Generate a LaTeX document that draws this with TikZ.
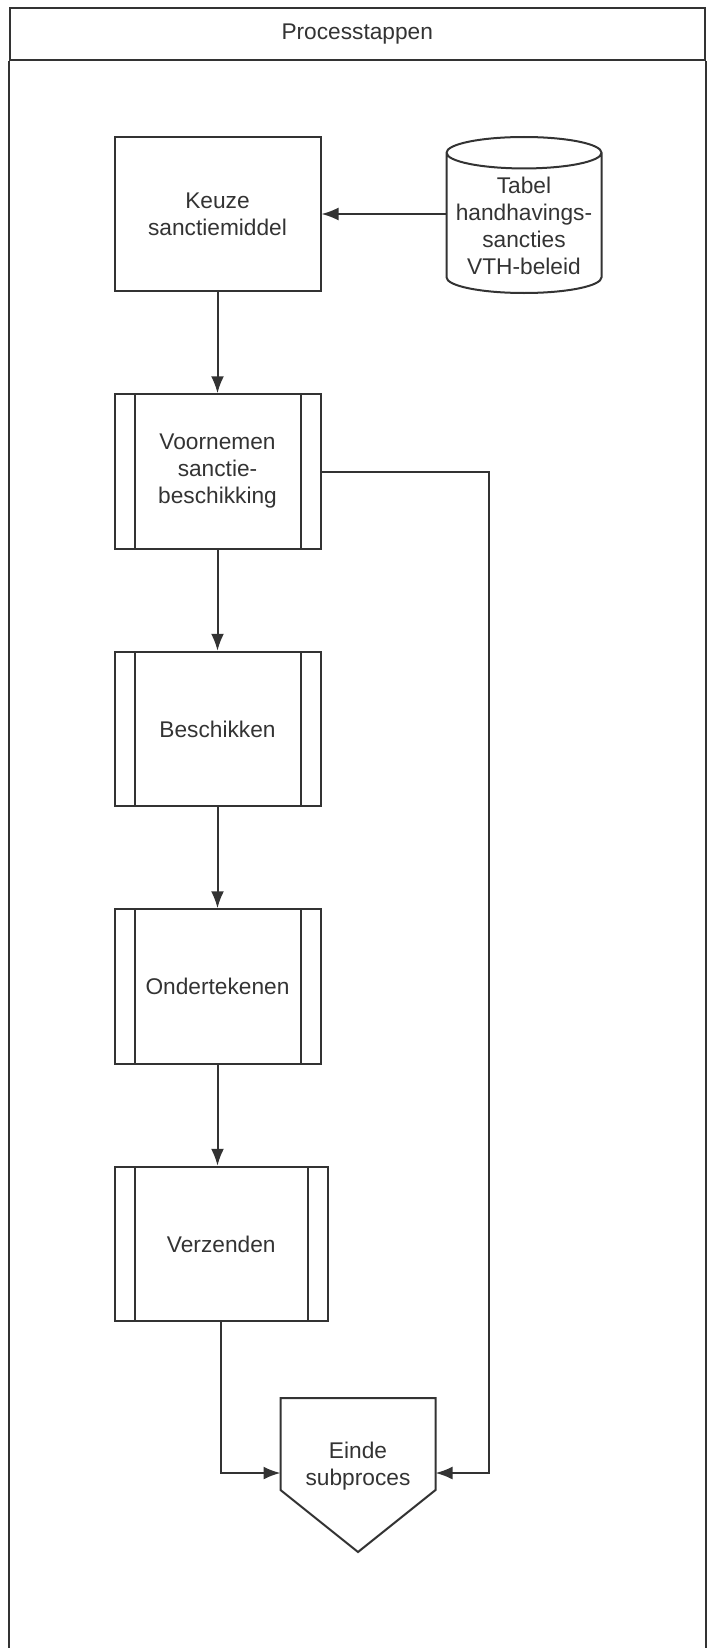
\documentclass[tikz,border=0pt]{standalone}
\usepackage{fontspec}
\setmainfont{Liberation Sans}
\usetikzlibrary{arrows.meta}
\usetikzlibrary{shapes}
\usetikzlibrary{positioning}

\begin{document}
\begin{tikzpicture}[>={Latex[length=17pt, width=13pt]}, node distance=101pt, line width=2pt,
                    every node/.style = {font=\fontsize{22.7}{27}\selectfont, align=center, text=black!80},
                    taak/.style = {rectangle, draw=black!80, line width=2pt, minimum width=206pt, minimum height=154.5pt},
                    subproces/.style = {taak, path picture={
                        \draw [black!80, line width=2pt]
                          ([xshift=20pt]path picture bounding box.north west) -- ([xshift=20pt]path picture bounding box.south west)
                          ([xshift=-20pt]path picture bounding box.north east) -- ([xshift=-20pt]path picture bounding box.south east);}},
                    database/.style = {cylinder, shape border rotate=90, draw=black!80, line width=2pt, aspect=0.22,
                                       minimum width=155pt, minimum height=156pt},
                    einde/.style = {rectangle, outer sep=0pt, minimum width=155pt, minimum height=136pt},
                    flow/.style = {-{Latex[length=17pt, width=13pt]}, black!80, line width=2pt}]
  \useasboundingbox (0,0) rectangle (707pt,-1648pt);

  % swimlane
  \node [rectangle, draw=black!80, line width=2pt, minimum width=695.5pt, minimum height=51.5pt] (kop) at (357.25pt,-34.25pt) {Processtappen};
  \draw [black!80] (kop.south west) -- ++(0,-1620pt);
  \draw [black!80] (kop.south east) -- ++(0,-1620pt);

  % stappen
  \node [taak] (keuze) at (217.5pt,-214pt) {Keuze\\sanctiemiddel};
  \node [database, anchor=shape center] (tabel) at (524pt,-215pt) {Tabel\\handhavings-\\sancties\\VTH-beleid};
  \node [subproces] (voornemen) [below=of keuze] {Voornemen\\sanctie-\\beschikking};
  \node [subproces] (beschikken) [below=of voornemen] {Beschikken};
  \node [subproces] (ondertekenen) [below=of beschikken] {Ondertekenen};
  \node [subproces, minimum width=213.5pt] (verzenden) [below=of ondertekenen.south west, anchor=north west] {Verzenden};
  \node [einde] (eind) at (358pt,-1466pt) {Einde\\subproces};
  \draw [black!80] (eind.north west) -- (eind.north east) -- ([yshift=44pt]eind.south east)
    -- ([yshift=-18pt]eind.south) -- ([yshift=44pt]eind.south west) -- cycle;

  % pijlen
  \draw [flow] (tabel.west |- keuze.east) -- (keuze.east);
  \draw [flow] (keuze) -- (voornemen);
  \draw [flow] (voornemen) -- (beschikken);
  \draw [flow] (beschikken) -- (ondertekenen);
  \draw [flow] (ondertekenen) -- (ondertekenen |- verzenden.north);
  \draw [flow] (verzenden) |- ([yshift=-7pt]eind.west);
  \draw [flow] (voornemen.east) -- ++(167pt,0) |- ([yshift=-7pt]eind.east);
\end{tikzpicture}
\end{document}
